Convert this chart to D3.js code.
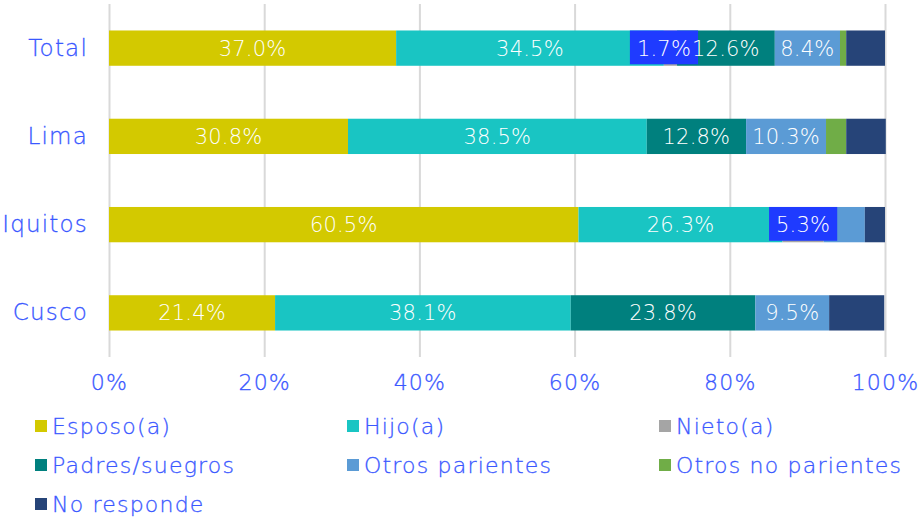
<!DOCTYPE html>
<html>
<head>
<meta charset="utf-8">
<script src="https://cdn.jsdelivr.net/npm/d3@7"></script>
<style>
  body { margin: 0; background: #fff; }
  svg text { font-family: "DejaVu Sans", sans-serif; font-weight: 200; letter-spacing: 1.2px; }
</style>
</head>
<body>
<svg width="919" height="520"></svg>
<script>
var categories = ["Total", "Lima", "Iquitos", "Cusco"];
var seriesNames = ["Esposo(a)", "Hijo(a)", "Nieto(a)", "Padres/suegros", "Otros parientes", "Otros no parientes", "No responde"];
var seriesColors = ["#d3c900", "#19c5c3", "#a5a5a5", "#00807e", "#5b9bd5", "#70ad47", "#264478"];

// percentages by category, in the order of seriesNames
var esposo = [37.0, 30.8, 60.5, 21.4];
var hijo = [34.5, 38.5, 26.3, 38.1];
var nieto = [1.7, 0, 5.3, 0];
var padres = [12.6, 12.8, 0, 23.8];
var otrosParientes = [8.4, 10.3, 5.3, 9.5];
var otrosNoParientes = [0.8, 2.6, 0, 0];
var noResponde = [5.0, 5.1, 2.6, 7.1];

var tickValues = [0, 20, 40, 60, 80, 100];

// labels that the original does not show
var labelledSeries = ["Esposo(a)", "Hijo(a)", "Nieto(a)", "Padres/suegros", "Otros parientes"];
var hiddenLabels = [["Iquitos", "Otros parientes"]];

var values = [esposo, hijo, nieto, padres, otrosParientes, otrosNoParientes, noResponde];
var textBlue = "#3a58ff";

var svg = d3.select("svg");

var table = categories.map(function(c, i) {
  var row = {cat: c};
  seriesNames.forEach(function(s, j) { row[s] = values[j][i]; });
  return row;
});

var stacked = d3.stack().keys(seriesNames)(table);

var xScale = d3.scaleLinear().domain([0, 100]).range([109, 885]);
var yScale = d3.scaleBand().domain(categories).range([4, 357])
  .paddingInner(0.6).paddingOuter(0.3);

// grid lines
svg.append("g")
  .attr("transform", "translate(0,357)")
  .call(d3.axisBottom(xScale).tickValues(tickValues).tickSize(-353).tickFormat(""))
  .call(function(g) {
    g.select(".domain").remove();
    g.selectAll(".tick line").attr("stroke", "#d9d9d9").attr("stroke-width", 2);
  });

// x tick labels
svg.append("g")
  .attr("transform", "translate(0,357)")
  .call(d3.axisBottom(xScale).tickValues(tickValues).tickSize(0).tickPadding(17)
    .tickFormat(function(d) { return d + "%"; }))
  .call(function(g) {
    g.select(".domain").remove();
    g.selectAll("text").attr("fill", textBlue).attr("stroke", textBlue).attr("stroke-width", 0.3)
      .style("font-size", "22px").attr("dy", "0.71em");
  });

// category labels
svg.append("g")
  .attr("transform", "translate(109,0)")
  .call(d3.axisLeft(yScale).tickSize(0).tickPadding(21))
  .call(function(g) {
    g.select(".domain").remove();
    g.selectAll("text").attr("fill", textBlue).attr("stroke", textBlue).attr("stroke-width", 0.3)
      .style("font-size", "23px");
  });

var layers = svg.append("g").selectAll("g")
  .data(stacked)
  .enter().append("g")
  .attr("fill", function(d, i) { return seriesColors[i]; });

layers.selectAll("rect")
  .data(function(d) { return d; })
  .enter().append("rect")
  .attr("x", function(d) { return xScale(d[0]); })
  .attr("y", function(d) { return yScale(d.data.cat); })
  .attr("width", function(d) { return xScale(d[1]) - xScale(d[0]); })
  .attr("height", yScale.bandwidth());

// data labels
var labels = [];
stacked.forEach(function(layer) {
  layer.forEach(function(d) {
    var v = d[1] - d[0];
    if (v <= 0) return;
    if (labelledSeries.indexOf(layer.key) < 0) return;
    var hide = hiddenLabels.some(function(h) { return h[0] === d.data.cat && h[1] === layer.key; });
    if (hide) return;
    labels.push({key: layer.key, cat: d.data.cat, v: v, mid: (d[0] + d[1]) / 2});
  });
});

var lg = svg.append("g");
labels.forEach(function(l) {
  l.x = xScale(l.mid);
  l.t = lg.append("text")
    .attr("x", l.x)
    .attr("y", yScale(l.cat) + yScale.bandwidth() / 2)
    .attr("dy", "0.36em")
    .attr("text-anchor", "middle")
    .attr("fill", "#fff")
    .style("font-size", "21px")
    .style("letter-spacing", "0.2px")
    .text(l.v.toFixed(1) + "%");
  l.w = l.t.node().getComputedTextLength();
});

// the small Nieto(a) label gets a blue box, pushed left if it runs into the next label
labels.filter(function(l) { return l.key === "Nieto(a)"; }).forEach(function(l) {
  var next = labels.filter(function(o) { return o.cat === l.cat && o.mid > l.mid; })[0];
  if (next) {
    var over = (l.x + l.w / 2) - (next.x - next.w / 2);
    if (over > -1) { l.x -= over + 1; l.t.attr("x", l.x); }
  }
  var w = l.w + 14;
  lg.insert("rect", function() { return l.t.node(); })
    .attr("x", l.x - w / 2)
    .attr("y", yScale(l.cat))
    .attr("width", w)
    .attr("height", yScale.bandwidth() - 1.5)
    .attr("fill", "#1f3bff");
});

// legend
var legendX = [35, 347, 659];
var legend = svg.append("g").selectAll("g")
  .data(seriesNames)
  .enter().append("g")
  .attr("transform", function(d, i) {
    return "translate(" + legendX[i % 3] + "," + (426 + Math.floor(i / 3) * 39) + ")";
  });

legend.append("rect")
  .attr("x", 0).attr("y", -6)
  .attr("width", 12).attr("height", 12)
  .attr("fill", function(d, i) { return seriesColors[i]; });

legend.append("text")
  .attr("x", 17)
  .attr("dy", "0.36em")
  .attr("fill", textBlue)
  .attr("stroke", textBlue)
  .attr("stroke-width", 0.3)
  .style("font-size", "22px")
  .text(function(d) { return d; });
</script>
</body>
</html>
